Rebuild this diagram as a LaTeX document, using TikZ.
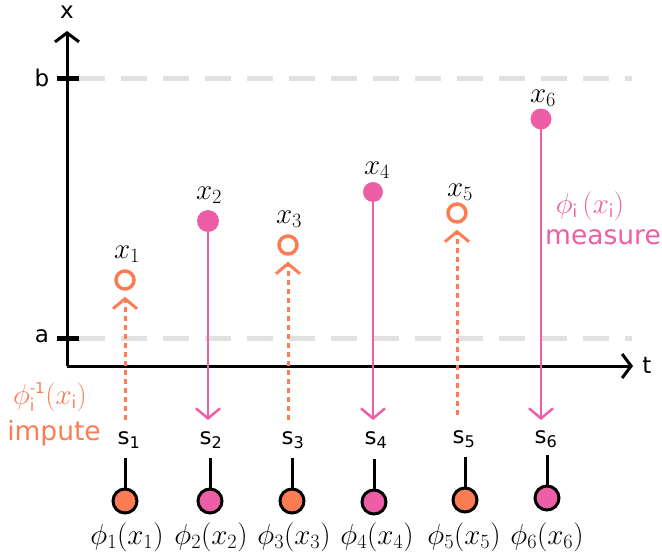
\documentclass[tikz,border=0pt]{standalone}
\usepackage{fix-cm}
\usepackage[no-math]{fontspec}
\setmainfont{DejaVu Sans}
\usetikzlibrary{arrows.meta}
\definecolor{imputec}{RGB}{252,125,84}
\definecolor{measurec}{RGB}{238,94,166}
\definecolor{guide}{RGB}{225,225,225}
\newcommand{\supinv}{\hbox{\fontsize{15}{15}\selectfont -1}}
\tikzset{
  x=1pt, y=-1pt,
  axis/.style={line width=3pt, -{Straight Barb[length=9pt,width=24pt,line width=3pt]}},
  guideline/.style={guide, line width=5pt, dash pattern=on 26pt off 16pt},
  tickmark/.style={line width=5pt},
  lbl/.style={font=\fontsize{23}{27}\selectfont, inner sep=0pt},
  mlbl/.style={font=\fontsize{29}{33}\selectfont, inner sep=0pt},
  wlbl/.style={font=\fontsize{26.5}{30}\selectfont, inner sep=0pt},
  obs/.style={circle, fill=measurec, inner sep=0pt, minimum size=22pt},
  imp/.style={circle, draw=imputec, line width=3.5pt, inner sep=0pt, minimum size=18pt},
  measarrow/.style={measurec, line width=2.5pt, -{Straight Barb[length=10pt,width=24pt,line width=2.5pt]}},
  imparrow/.style={imputec, line width=3pt, dash pattern=on 5pt off 4pt, -{Straight Barb[length=10pt,width=24pt,line width=3pt]}},
  sensor/.style={circle, draw=black, line width=3pt, inner sep=0pt, minimum size=24pt},
  stem/.style={line width=3pt},
}
\begin{document}
\begin{tikzpicture}
\useasboundingbox (0,0) rectangle (662,554);

% reference levels a and b
\coordinate (bL) at (79,78);  \coordinate (bR) at (632,78);
\coordinate (aL) at (79,338); \coordinate (aR) at (632,338);
\draw[guideline] (bL) -- (bR);
\draw[guideline] (aL) -- (aR);

% axes
\coordinate (O) at (67,366);
\coordinate (ytop) at (67,31);
\coordinate (xend) at (633,366);
\draw[axis] (O) -- (ytop);
\draw[axis] (O) -- (xend);
\node[lbl] (xl) at (67,12) {x};
\node[lbl] (tl) at (647,365) {t};

\coordinate (b1) at (57,78); \coordinate (b2) at (79,78);
\coordinate (a1) at (57,338); \coordinate (a2) at (79,338);
\draw[tickmark] (b1) -- (b2);
\draw[tickmark] (a1) -- (a2);
\node[lbl] (bl) at (42,78) {b};
\node[lbl] (al) at (42,336) {a};

% values
\node[imp] (p1) at (125,280) {};
\node[obs] (p2) at (208,221) {};
\node[imp] (p3) at (288,245) {};
\node[obs, minimum size=20pt] (p4) at (373,192) {};
\node[imp] (p5) at (457,213) {};
\node[obs, minimum size=21pt] (p6) at (541,119) {};

\node[mlbl] (x1) at (127,254) {$x_1$};
\node[mlbl] (x2) at (209,195) {$x_2$};
\node[mlbl] (x3) at (289,219) {$x_3$};
\node[mlbl] (x4) at (377,170) {$x_4$};
\node[mlbl] (x5) at (460,192) {$x_5$};
\node[mlbl] (x6) at (543,98) {$x_6$};

% sensor labels
\node[lbl] (s1) at (129,440) {s\textsubscript{1}};
\node[lbl] (s2) at (211,440) {s\textsubscript{2}};
\node[lbl] (s3) at (293,440) {s\textsubscript{3}};
\node[lbl] (s4) at (376,440) {s\textsubscript{4}};
\node[lbl] (s5) at (464,439) {s\textsubscript{5}};
\node[lbl] (s6) at (546,439) {s\textsubscript{6}};

% connectors between sensors and values
\coordinate (e1) at (125,420); \coordinate (e3) at (288,420); \coordinate (e5) at (457,415);
\coordinate (f2) at (208,420); \coordinate (f4) at (373,420); \coordinate (f6) at (541,420);
\draw[imparrow] (e1) -- ([yshift=-6pt]p1.south);
\draw[imparrow] (e3) -- ([yshift=-6pt]p3.south);
\draw[imparrow] (e5) -- ([yshift=-6pt]p5.south);
\draw[measarrow] ([yshift=5pt]p2.south) -- (f2);
\draw[measarrow] ([yshift=5pt]p4.south) -- (f4);
\draw[measarrow] ([yshift=5pt]p6.south) -- (f6);

% sensors
\node[sensor, fill=imputec]  (c1) at (125,501) {};
\node[sensor, fill=measurec] (c2) at (210,501) {};
\node[sensor, fill=imputec]  (c3) at (292,501) {};
\node[sensor, fill=measurec] (c4) at (374,502) {};
\node[sensor, fill=imputec]  (c5) at (465,500) {};
\node[sensor, fill=measurec] (c6) at (547,498) {};
\draw[stem] (c1.north) -- ++(0,-30);
\draw[stem] (c2.north) -- ++(0,-30);
\draw[stem] (c3.north) -- ++(0,-30);
\draw[stem] (c4.north) -- ++(0,-30);
\draw[stem] (c5.north) -- ++(0,-30);
\draw[stem] (c6.north) -- ++(0,-30);

\node[mlbl] (m1) at (127,537) {$\phi_1(x_1)$};
\node[mlbl] (m2) at (211,537) {$\phi_2(x_2)$};
\node[mlbl] (m3) at (294,537) {$\phi_3(x_3)$};
\node[mlbl] (m4) at (377,537) {$\phi_4(x_4)$};
\node[mlbl] (m5) at (464,537) {$\phi_5(x_5)$};
\node[mlbl] (m6) at (547,537) {$\phi_6(x_6)$};

% annotations
\node[mlbl, text=imputec] (ia) at (50,397) {$\phi_{\mathsf{i}}^{\supinv}(x_{\mathsf{i}})$};
\node[wlbl, text=imputec] (ib) at (54,433) {impute};
\node[mlbl, text=measurec] (ma) at (590,206) {$\phi_{\mathsf{i}}\,(x_{\mathsf{i}})$};
\node[wlbl, text=measurec] (mb) at (603,237) {measure};
\end{tikzpicture}
\end{document}
